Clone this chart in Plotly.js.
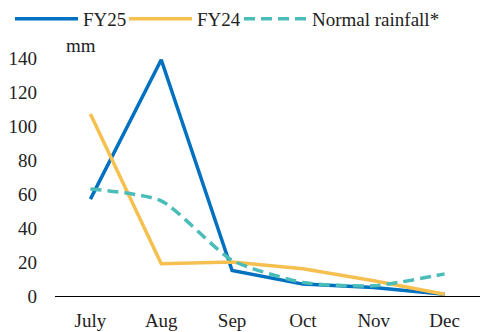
<!DOCTYPE html>
<html>
<head>
<meta charset="utf-8">
<script src="https://cdn.plot.ly/plotly-3.0.1.min.js"></script>
<style>
  html, body { margin: 0; padding: 0; background: #fff; }
  #chart { width: 480px; height: 332px; }
</style>
</head>
<body>
<div id="chart"></div>
<script>
// Monthly rainfall (mm)
const months = ['July', 'Aug', 'Sep', 'Oct', 'Nov', 'Dec'];
const fy25 = [57, 139, 15, 7, 5, 1];
const fy24 = [107, 19, 20, 16, 9, 1];
const normalRainfall = [63, 56, 21, 8, 6, 13];

const serif = 'Liberation Serif, Times New Roman, serif';
const txt = { family: serif, size: 19, color: '#222' };
const W = 480;

const traces = [
  {
    x: months, y: fy25, name: 'FY25', type: 'scatter', mode: 'lines',
    legend: 'legend',
    line: { color: '#0070C0', width: 3.5 }
  },
  {
    x: months, y: fy24, name: 'FY24', type: 'scatter', mode: 'lines',
    legend: 'legend2',
    line: { color: '#F5C04F', width: 3.5 }
  },
  {
    x: months, y: normalRainfall, name: 'Normal rainfall*', type: 'scatter', mode: 'lines',
    legend: 'legend3',
    line: { color: '#4BBDB8', width: 3.5, dash: '11px,6px', shape: 'spline', smoothing: 0.6 }
  }
];

// one single-entry legend per series, laid out in a row across the top
function legendAt(px) {
  return {
    orientation: 'h', x: px / W, y: 1, xref: 'container', yref: 'container',
    xanchor: 'left', yanchor: 'top', itemwidth: 63, font: txt,
    bgcolor: 'rgba(0,0,0,0)'
  };
}

const layout = {
  width: W, height: 332,
  margin: { l: 55, r: 0, t: 58, b: 36 },
  paper_bgcolor: '#fff', plot_bgcolor: '#fff',
  font: txt,
  showlegend: true,
  legend: legendAt(10),
  legend2: legendAt(124),
  legend3: legendAt(239),
  xaxis: {
    type: 'category', range: [-0.5, 5.5], automargin: false,
    showline: true, linecolor: '#000', linewidth: 1.3,
    showgrid: false, zeroline: false, ticks: '',
    ticklabelstandoff: 7,
    tickfont: txt
  },
  yaxis: {
    range: [0, 140], dtick: 20, showline: false, showgrid: false,
    zeroline: false, ticks: '', automargin: false,
    ticklabelstandoff: 17,
    tickfont: txt
  },
  annotations: [{
    text: 'mm', xref: 'paper', yref: 'paper', x: 0.022, y: 1.0,
    xanchor: 'left', yanchor: 'bottom', showarrow: false,
    font: txt
  }]
};

Plotly.newPlot('chart', traces, layout, { displayModeBar: false, staticPlot: true });
</script>
</body>
</html>
